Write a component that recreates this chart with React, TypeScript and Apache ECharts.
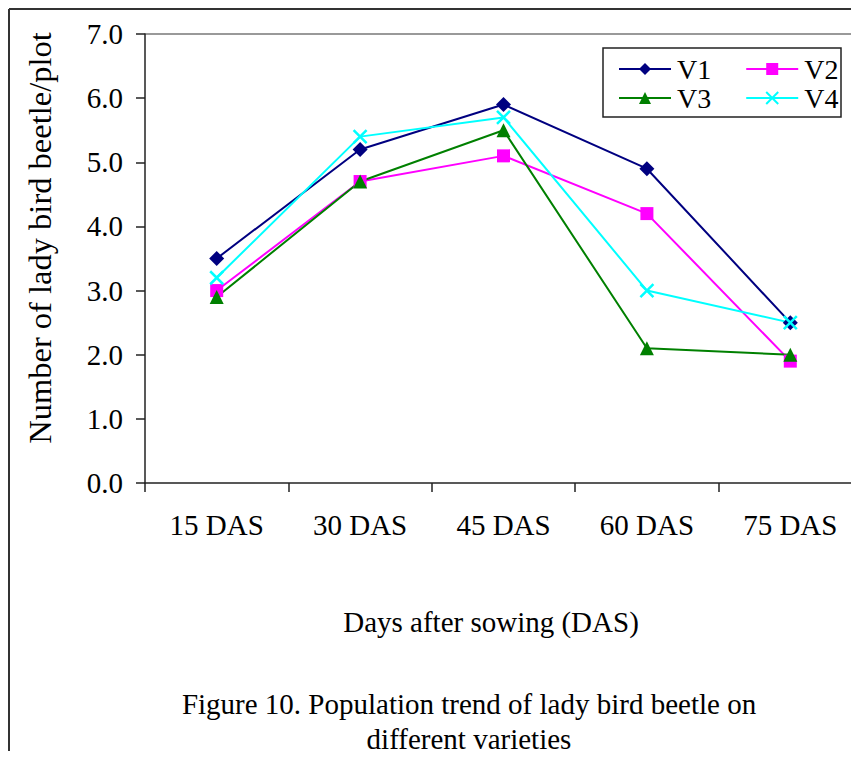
import React, { useEffect, useRef } from "react";
import * as echarts from "echarts";

const categories = ["15 DAS", "30 DAS", "45 DAS", "60 DAS", "75 DAS"];
const seriesNames = ["V1", "V2", "V3", "V4"];
const v1 = [3.5, 5.2, 5.9, 4.9, 2.5];
const v2 = [3.0, 4.7, 5.1, 4.2, 1.9];
const v3 = [2.9, 4.7, 5.5, 2.1, 2.0];
const v4 = [3.2, 5.4, 5.7, 3.0, 2.5];
const yMin = 0;
const yMax = 7;
const yStep = 1;

const FONT = "'Liberation Serif', 'Times New Roman', serif";
const X_SYMBOL = "path://M0,0L10,10M10,0L0,10";

export default function App() {
  const ref = useRef<HTMLDivElement>(null);
  useEffect(() => {
    if (!ref.current) return;
    const chart = echarts.init(ref.current, undefined, { renderer: "svg" });
    const mk = (name: string, data: number[], color: string, symbol: string, size: number, extra: any = {}) => ({
      name,
      type: "line",
      data,
      symbol,
      symbolSize: size,
      lineStyle: { color, width: 2 },
      itemStyle: { color, borderColor: color, borderWidth: 0, ...extra },
      emphasis: { disabled: true },
      z: 3,
    });
    const legendText = { fontSize: 28, color: "#000", fontFamily: FONT, padding: [0, 0, 0, 1] };
    chart.setOption({
      animation: false,
      backgroundColor: "#fff",
      textStyle: { fontFamily: FONT },
      grid: { left: 145, top: 34, width: 717, height: 449 },
      xAxis: {
        type: "category",
        data: categories,
        boundaryGap: true,
        axisLine: { lineStyle: { color: "#222", width: 1.5 } },
        axisTick: { show: true, length: 9, lineStyle: { color: "#222", width: 1.5 } },
        axisLabel: { color: "#000", fontSize: 29, fontFamily: FONT, margin: 27 },
        splitLine: { show: false },
      },
      yAxis: {
        type: "value",
        min: yMin,
        max: yMax,
        interval: yStep,
        axisLine: { show: true, lineStyle: { color: "#222", width: 1.5 } },
        axisTick: { show: true, length: 9, lineStyle: { color: "#222", width: 1.5 } },
        axisLabel: {
          color: "#000",
          fontSize: 29,
          fontFamily: FONT,
          margin: 22,
          formatter: (v: number) => v.toFixed(1),
        },
        splitLine: { show: false },
      },
      legend: [
        {
          data: [seriesNames[0], seriesNames[1]],
          left: 618,
          top: 55,
          orient: "horizontal",
          itemWidth: 52,
          itemHeight: 15,
          itemGap: 34,
          padding: 0,
          selectedMode: false,
          textStyle: legendText,
        },
        {
          data: [seriesNames[2], seriesNames[3]],
          left: 618,
          top: 84,
          orient: "horizontal",
          itemWidth: 52,
          itemHeight: 15,
          itemGap: 34,
          padding: 0,
          selectedMode: false,
          textStyle: legendText,
        },
      ],
      series: [
        mk(seriesNames[0], v1, "#000080", "diamond", 15),
        mk(seriesNames[1], v2, "#FF00FF", "rect", 13),
        mk(seriesNames[2], v3, "#008000", "triangle", 14),
        mk(seriesNames[3], v4, "#00FFFF", X_SYMBOL, 13, { borderWidth: 2.5, color: "none" }),
      ],
      graphic: [
        { type: "line", shape: { x1: 9, y1: 9, x2: 880, y2: 9 }, style: { stroke: "#333", lineWidth: 2 }, silent: true },
        { type: "line", shape: { x1: 9, y1: 9, x2: 9, y2: 751 }, style: { stroke: "#333", lineWidth: 2 }, silent: true },
        { type: "line", shape: { x1: 145, y1: 34, x2: 880, y2: 34 }, style: { stroke: "#999", lineWidth: 2 }, silent: true },
        { type: "rect", shape: { x: 603, y: 48, width: 238, height: 69 }, style: { fill: "none", stroke: "#222", lineWidth: 1.5 }, silent: true, z: 10 },
        {
          type: "text",
          x: 40,
          y: 238,
          rotation: Math.PI / 2,
          style: { text: "Number of lady bird beetle/plot", fontSize: 32.5, fontFamily: FONT, fill: "#000", align: "center", verticalAlign: "middle" },
          silent: true,
        },
        {
          type: "text",
          x: 491,
          y: 622,
          style: { text: "Days after sowing (DAS)", fontSize: 29, fontFamily: FONT, fill: "#000", align: "center", verticalAlign: "middle" },
          silent: true,
        },
        {
          type: "text",
          x: 469,
          y: 704,
          style: { text: "Figure 10. Population trend of lady bird beetle on", fontSize: 29, fontFamily: FONT, fill: "#000", align: "center", verticalAlign: "middle" },
          silent: true,
        },
        {
          type: "text",
          x: 469,
          y: 739,
          style: { text: "different varieties", fontSize: 29, fontFamily: FONT, fill: "#000", align: "center", verticalAlign: "middle" },
          silent: true,
        },
      ],
    });
    return () => chart.dispose();
  }, []);
  return (
    <div style={{ position: "absolute", left: 0, top: 0, width: 851, height: 761, overflow: "hidden" }}>
      <div ref={ref} style={{ position: "absolute", left: 0, top: 0, width: 880, height: 761 }} />
    </div>
  );
}
